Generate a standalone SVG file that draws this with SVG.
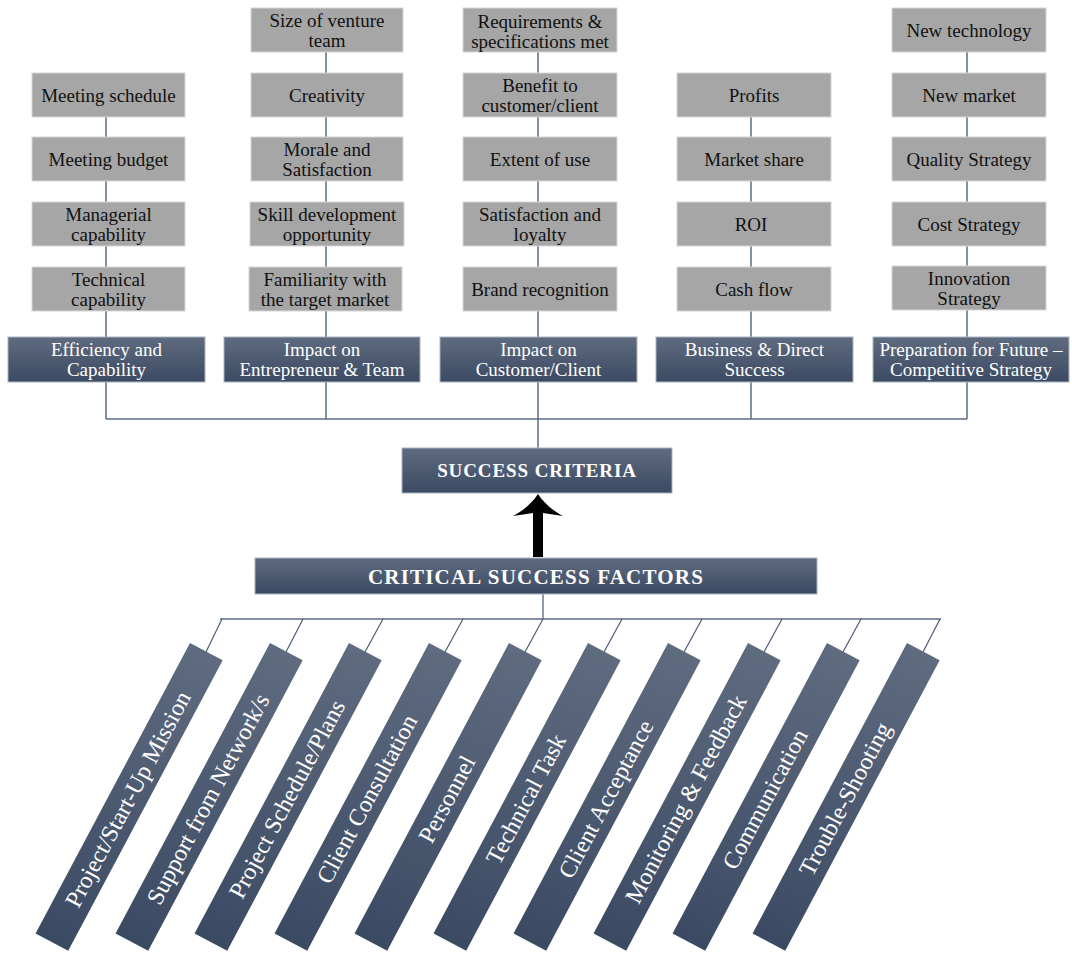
<svg xmlns="http://www.w3.org/2000/svg" width="1072" height="954" viewBox="0 0 1072 954">
<defs>
<linearGradient id="dark" x1="0" y1="0" x2="0" y2="1">
<stop offset="0" stop-color="#5f6b7f"/>
<stop offset="1" stop-color="#3b4a63"/>
</linearGradient>
<style>
.g{fill:#a6a6a6;stroke:#d6d6d6;stroke-width:1}
.h{fill:url(#dark);stroke:#a9b2c0;stroke-width:1}
.bar{fill:url(#dark)}
.t{font-family:"Liberation Serif","Times New Roman",serif;font-size:19px;fill:#111;text-anchor:middle}
.w{font-family:"Liberation Serif","Times New Roman",serif;font-size:19px;fill:#fff;text-anchor:middle}
.wb{font-family:"Liberation Serif","Times New Roman",serif;font-weight:bold;fill:#fff;text-anchor:middle}
.bt{font-family:"Liberation Serif","Times New Roman",serif;font-size:24px;fill:#fff;text-anchor:middle}
.c{stroke:#5b6b87;stroke-width:1.5;fill:none}
.d{stroke:#4a5a76;stroke-width:1.2;fill:none}
</style>
</defs>
<rect width="1072" height="954" fill="#fff"/>
<g id="connectors">
<line class="c" x1="106" y1="117" x2="106" y2="419"/>
<line class="c" x1="326" y1="52" x2="326" y2="419"/>
<line class="c" x1="538" y1="52" x2="538" y2="419"/>
<line class="c" x1="751" y1="117" x2="751" y2="419"/>
<line class="c" x1="967" y1="52" x2="967" y2="419"/>
<line class="c" x1="106" y1="419" x2="967" y2="419"/>
<line class="c" x1="538" y1="419" x2="538" y2="448"/>
<line class="d" x1="543" y1="594" x2="543" y2="619"/>
<line class="c" x1="220" y1="619" x2="941" y2="619"/>
<line class="d" x1="222" y1="619" x2="206" y2="652"/>
<line class="d" x1="303" y1="619" x2="286" y2="652"/>
<line class="d" x1="383" y1="619" x2="365" y2="652"/>
<line class="d" x1="463" y1="619" x2="445" y2="652"/>
<line class="d" x1="543" y1="619" x2="525" y2="652"/>
<line class="d" x1="622" y1="619" x2="604" y2="652"/>
<line class="d" x1="702" y1="619" x2="684" y2="652"/>
<line class="d" x1="782" y1="619" x2="764" y2="652"/>
<line class="d" x1="861" y1="619" x2="843" y2="652"/>
<line class="d" x1="940" y1="619" x2="923" y2="652"/>
<path id="arrow" d="M538,494 C544,503 553,511 563,516 L543,513 L543,557 L533,557 L533,513 L513,516 C523,511 532,503 538,494 Z" fill="#000"/>
</g>
<g id="col1">
<g id="n-meeting-schedule"><rect class="g" x="32" y="73" width="153" height="44"/><text class="t" x="108.5" y="102">Meeting schedule</text></g>
<g id="n-meeting-budget"><rect class="g" x="32" y="137" width="153" height="44"/><text class="t" x="108.5" y="166">Meeting budget</text></g>
<g id="n-managerial"><rect class="g" x="32" y="202" width="153" height="44"/><text class="t" x="108.5" y="221">Managerial</text><text class="t" x="108.5" y="241">capability</text></g>
<g id="n-technical"><rect class="g" x="32" y="267" width="153" height="44"/><text class="t" x="108.5" y="286">Technical</text><text class="t" x="108.5" y="306">capability</text></g>
<g id="h-efficiency"><rect class="h" x="8" y="337" width="197" height="45"/><text class="w" x="106.5" y="355.5">Efficiency and</text><text class="w" x="106.5" y="375.5">Capability</text></g>
</g>
<g id="col2">
<g id="n-size"><rect class="g" x="251" y="8" width="152" height="44"/><text class="t" x="327" y="27">Size of venture</text><text class="t" x="327" y="47">team</text></g>
<g id="n-creativity"><rect class="g" x="251" y="73" width="152" height="44"/><text class="t" x="327" y="102">Creativity</text></g>
<g id="n-morale"><rect class="g" x="251" y="137" width="152" height="44"/><text class="t" x="327" y="156">Morale and</text><text class="t" x="327" y="176">Satisfaction</text></g>
<g id="n-skill"><rect class="g" x="250" y="202" width="154" height="44"/><text class="t" x="327" y="221">Skill development</text><text class="t" x="327" y="241">opportunity</text></g>
<g id="n-familiarity"><rect class="g" x="249" y="267" width="153" height="44"/><text class="t" x="325" y="286">Familiarity with</text><text class="t" x="325" y="306">the target market</text></g>
<g id="h-entrepreneur"><rect class="h" x="224" y="337" width="196" height="45"/><text class="w" x="322" y="355.5">Impact on</text><text class="w" x="322" y="375.5">Entrepreneur &amp; Team</text></g>
</g>
<g id="col3">
<g id="n-requirements"><rect class="g" x="463" y="8" width="154" height="44"/><text class="t" x="540" y="28">Requirements &amp;</text><text class="t" x="540" y="48">specifications met</text></g>
<g id="n-benefit"><rect class="g" x="463" y="73" width="154" height="44"/><text class="t" x="540" y="92">Benefit to</text><text class="t" x="540" y="112">customer/client</text></g>
<g id="n-extent"><rect class="g" x="463" y="137" width="154" height="44"/><text class="t" x="540" y="166">Extent of use</text></g>
<g id="n-satisfaction"><rect class="g" x="463" y="202" width="154" height="44"/><text class="t" x="540" y="221">Satisfaction and</text><text class="t" x="540" y="241">loyalty</text></g>
<g id="n-brand"><rect class="g" x="463" y="267" width="154" height="44"/><text class="t" x="540" y="296">Brand recognition</text></g>
<g id="h-customer"><rect class="h" x="440" y="337" width="197" height="45"/><text class="w" x="538.5" y="355.5">Impact on</text><text class="w" x="538.5" y="375.5">Customer/Client</text></g>
</g>
<g id="col4">
<g id="n-profits"><rect class="g" x="677" y="73" width="154" height="44"/><text class="t" x="754" y="102">Profits</text></g>
<g id="n-market-share"><rect class="g" x="677" y="137" width="154" height="44"/><text class="t" x="754" y="166">Market share</text></g>
<g id="n-roi"><rect class="g" x="677" y="202" width="154" height="44"/><text class="t" x="751" y="231">ROI</text></g>
<g id="n-cash"><rect class="g" x="677" y="267" width="154" height="44"/><text class="t" x="754" y="296">Cash flow</text></g>
<g id="h-business"><rect class="h" x="656" y="337" width="197" height="45"/><text class="w" x="754.5" y="355.5">Business &amp; Direct</text><text class="w" x="754.5" y="375.5">Success</text></g>
</g>
<g id="col5">
<g id="n-new-tech"><rect class="g" x="892" y="8" width="154" height="44"/><text class="t" x="969" y="37">New technology</text></g>
<g id="n-new-market"><rect class="g" x="892" y="73" width="154" height="44"/><text class="t" x="969" y="102">New market</text></g>
<g id="n-quality"><rect class="g" x="892" y="137" width="154" height="44"/><text class="t" x="969" y="166">Quality Strategy</text></g>
<g id="n-cost"><rect class="g" x="892" y="202" width="154" height="44"/><text class="t" x="969" y="231">Cost Strategy</text></g>
<g id="n-innovation"><rect class="g" x="892" y="266" width="154" height="44"/><text class="t" x="969" y="285">Innovation</text><text class="t" x="969" y="305">Strategy</text></g>
<g id="h-future"><rect class="h" x="873" y="337" width="196" height="45"/><text class="w" x="971" y="355.5">Preparation for Future –</text><text class="w" x="971" y="375.5">Competitive Strategy</text></g>
</g>
<g id="success-criteria"><rect class="h" x="402" y="448" width="270" height="45"/><text class="wb" x="537" y="477" font-size="19" letter-spacing="0.9">SUCCESS CRITERIA</text></g>
<g id="csf"><rect class="h" x="255" y="558" width="562" height="36"/><text class="wb" x="536" y="584" font-size="21" letter-spacing="1.2">CRITICAL SUCCESS FACTORS</text></g>
<g id="factors">
<g id="f1" transform="translate(190,643) rotate(28)"><rect class="bar" width="37" height="329"/><text class="bt" transform="translate(18.5,167) rotate(-90)" x="0" y="8">Project/Start-Up Mission</text></g>
<g id="f2" transform="translate(270,643) rotate(28)"><rect class="bar" width="37" height="329"/><text class="bt" transform="translate(18.5,167) rotate(-90)" x="0" y="8">Support from Network/s</text></g>
<g id="f3" transform="translate(349,643) rotate(28)"><rect class="bar" width="37" height="329"/><text class="bt" transform="translate(18.5,167) rotate(-90)" x="0" y="8">Project Schedule/Plans</text></g>
<g id="f4" transform="translate(429,643) rotate(28)"><rect class="bar" width="37" height="329"/><text class="bt" transform="translate(18.5,167) rotate(-90)" x="0" y="8">Client Consultation</text></g>
<g id="f5" transform="translate(509,643) rotate(28)"><rect class="bar" width="37" height="329"/><text class="bt" transform="translate(18.5,167) rotate(-90)" x="0" y="8">Personnel</text></g>
<g id="f6" transform="translate(588,643) rotate(28)"><rect class="bar" width="37" height="329"/><text class="bt" transform="translate(18.5,167) rotate(-90)" x="0" y="8">Technical Task</text></g>
<g id="f7" transform="translate(668,643) rotate(28)"><rect class="bar" width="37" height="329"/><text class="bt" transform="translate(18.5,167) rotate(-90)" x="0" y="8">Client Acceptance</text></g>
<g id="f8" transform="translate(748,643) rotate(28)"><rect class="bar" width="37" height="329"/><text class="bt" transform="translate(18.5,167) rotate(-90)" x="0" y="8">Monitoring &amp; Feedback</text></g>
<g id="f9" transform="translate(827,643) rotate(28)"><rect class="bar" width="37" height="329"/><text class="bt" transform="translate(18.5,167) rotate(-90)" x="0" y="8">Communication</text></g>
<g id="f10" transform="translate(907,643) rotate(28)"><rect class="bar" width="37" height="329"/><text class="bt" transform="translate(18.5,167) rotate(-90)" x="0" y="8">Trouble-Shooting</text></g>
</g>
</svg>
